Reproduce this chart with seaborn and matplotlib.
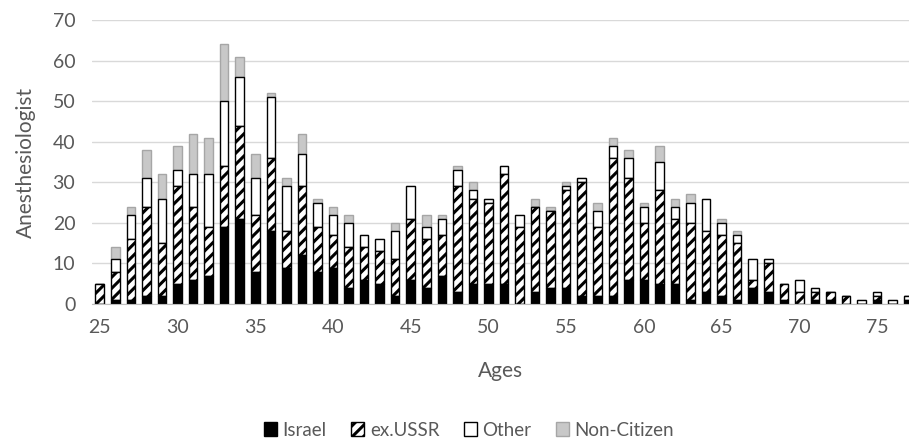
import matplotlib
matplotlib.use("Agg")
import matplotlib.pyplot as plt
from matplotlib.patches import Patch
import numpy as np
import seaborn as sns

# ages 25..77
ages = list(range(25, 78))

israel = [0, 1, 1, 2, 2, 5, 6, 7, 19, 21, 8, 18, 9, 12, 8, 9, 4, 6, 5, 2,
          6, 4, 7, 3, 5, 5, 5, 0, 3, 4, 4, 2, 2, 2, 6, 6, 5, 5, 1, 3,
          2, 1, 4, 3, 1, 0, 1, 1, 0, 0, 1, 0, 1]
ex_ussr = [5, 7, 15, 22, 13, 24, 18, 12, 15, 23, 14, 18, 9, 17, 11, 8, 10, 8, 8, 9,
           15, 12, 10, 26, 21, 20, 27, 19, 21, 19, 24, 28, 17, 34, 25, 14, 23, 16, 19, 15,
           15, 14, 2, 7, 4, 3, 2, 2, 2, 0, 1, 0, 1]
other = [0, 3, 6, 7, 11, 4, 8, 13, 16, 12, 9, 15, 11, 8, 6, 5, 6, 3, 3, 7,
         8, 3, 4, 4, 2, 1, 2, 3, 0, 0, 1, 1, 4, 3, 5, 4, 7, 3, 5, 8,
         3, 2, 5, 1, 0, 3, 1, 0, 0, 1, 1, 1, 0]
non_citizen = [0, 3, 2, 7, 6, 6, 10, 9, 14, 5, 6, 1, 2, 5, 1, 2, 2, 0, 0, 2,
               0, 3, 1, 1, 2, 0, 0, 0, 2, 1, 1, 0, 2, 2, 2, 1, 4, 2, 2, 0,
               1, 1, 0, 0, 0, 0, 0, 0, 0, 0, 0, 0, 0]

series = ["Israel", "ex.USSR", "Other", "Non-Citizen"]
values = [israel, ex_ussr, other, non_citizen]
styles = {
    "Israel": dict(color="black", edgecolor="black", hatch=None),
    "ex.USSR": dict(color="white", edgecolor="black", hatch="///"),
    "Other": dict(color="white", edgecolor="black", hatch=None),
    "Non-Citizen": dict(color="#c8c8c8", edgecolor="#a6a6a6", hatch=None),
}

sns.set_style("white")
plt.rcParams["font.family"] = ["Lato", "DejaVu Sans"]
plt.rcParams["hatch.linewidth"] = 2.2

fig = plt.figure(figsize=(9.09, 4.40), dpi=100)
ax = fig.add_axes([0.1012, 0.309, 0.899, 0.6455])

bottoms = np.cumsum([np.zeros(len(ages))] + [np.array(v) for v in values[:-1]], axis=0)

# draw top layer first so lower layers' edges sit on top
for i in reversed(range(len(series))):
    st = styles[series[i]]
    sns.barplot(
        x=ages, y=values[i], bottom=bottoms[i], native_scale=True, ax=ax,
        width=0.55, color=st["color"], edgecolor=st["edgecolor"],
        hatch=st["hatch"], linewidth=1.0, saturation=1, errorbar=None,
    )

ax.set_xlim(24.5, 77.06)
ax.set_ylim(0, 70)
ax.set_yticks(range(0, 71, 10))
ax.set_xticks(range(25, 76, 5))
ax.grid(axis="y", color="#d9d9d9", linewidth=1)
ax.set_axisbelow(True)
sns.despine(ax=ax, left=True, right=True, top=True)
ax.spines["bottom"].set_color("#bfbfbf")
ax.tick_params(axis="x", length=0, labelsize=14, labelcolor="#595959", pad=11)
ax.tick_params(axis="y", length=0, labelsize=14, labelcolor="#595959", pad=12)
ax.set_xlabel("Ages", fontsize=15, color="#595959", labelpad=18)
ax.set_ylabel("Anesthesiologist", fontsize=15, color="#595959", labelpad=12)

handles = [Patch(facecolor=styles[s]["color"], edgecolor=styles[s]["edgecolor"],
                 hatch=styles[s]["hatch"], label=s) for s in series]
fig.legend(handles=handles, loc="lower center", bbox_to_anchor=(0.516, -0.035),
           ncol=4, frameon=False, fontsize=13.5, handlelength=0.7, handleheight=0.7,
           handletextpad=0.3, columnspacing=1.3, labelcolor="#595959")

fig.savefig("out.png", dpi=100)
